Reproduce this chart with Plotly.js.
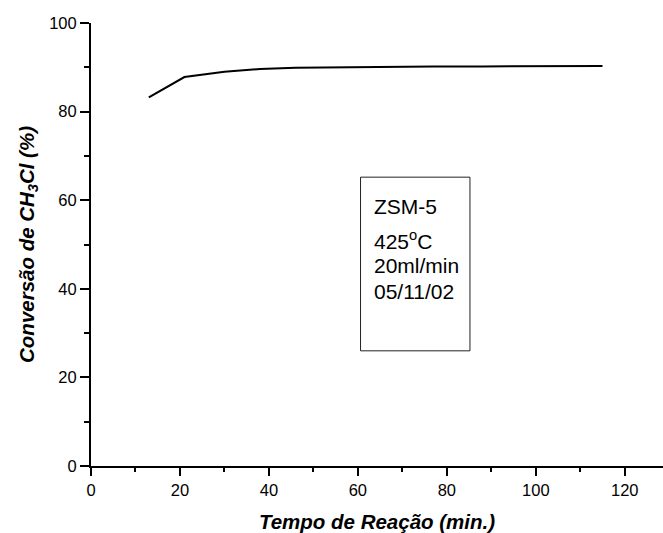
<!DOCTYPE html>
<html>
<head>
<meta charset="utf-8">
<script src="https://cdn.plot.ly/plotly-3.0.1.min.js"></script>
<style>html,body{margin:0;padding:0;background:#fff;}#chart{width:663px;height:533px;}</style>
</head>
<body>
<div id="chart"></div>
<script>
var tempo = [13, 21, 30, 38, 46, 55, 66, 77, 88, 99, 115];
var conversao = [83.2, 87.8, 89.0, 89.6, 89.9, 90.0, 90.2, 90.2, 90.2, 90.3, 90.3];
var boxLines = ["ZSM-5", "425<sup>o</sup>C", "20ml/min", "05/11/02"];
var boxLineY = [58.6, 51.1, 45.3, 39.4];

var FONT = "Arial, 'Liberation Sans', sans-serif";

var annotations = boxLines.map(function (t, i) {
  return {
    x: 63.1, y: boxLineY[i], xref: 'x', yref: 'y',
    xanchor: 'left', yanchor: 'middle',
    text: t, showarrow: false,
    font: {family: FONT, size: 21, color: '#000'}
  };
});

var trace = {
  x: tempo, y: conversao, mode: 'lines', type: 'scatter',
  line: {color: '#000', width: 2}, hoverinfo: 'none'
};

var layout = {
  width: 663, height: 533,
  margin: {l: 91, r: 0, t: 23, b: 67, pad: 0},
  paper_bgcolor: '#fff', plot_bgcolor: '#fff',
  showlegend: false,
  font: {family: FONT, color: '#000', size: 16},
  xaxis: {
    range: [0, 128.6], dtick: 20, tick0: 0,
    showgrid: false, zeroline: false,
    showline: true, linecolor: '#000', linewidth: 2,
    ticks: 'outside', ticklen: 8, tickwidth: 2, tickcolor: '#000',
    minor: {dtick: 10, ticks: 'outside', ticklen: 4, tickwidth: 2, tickcolor: '#000', showgrid: false},
    tickfont: {family: FONT, size: 16.5, color: '#000'},
    title: {text: 'Tempo de Reação (min.)', standoff: 17,
      font: {family: FONT, size: 20.5, color: '#000', weight: 'bold', style: 'italic'}}
  },
  yaxis: {
    range: [0, 100], dtick: 20, tick0: 0,
    showgrid: false, zeroline: false,
    showline: true, linecolor: '#000', linewidth: 2,
    ticks: 'outside', ticklen: 9, tickwidth: 2, tickcolor: '#000',
    minor: {dtick: 10, ticks: 'outside', ticklen: 5, tickwidth: 2, tickcolor: '#000', showgrid: false},
    tickfont: {family: FONT, size: 16.5, color: '#000'},
    title: {text: 'Conversão de CH<sub>3</sub>Cl (%)', standoff: 9,
      font: {family: FONT, size: 20.5, color: '#000', weight: 'bold', style: 'italic'}}
  },
  shapes: [{
    type: 'rect', xref: 'x', yref: 'y',
    x0: 60.6, x1: 85.2, y0: 26, y1: 65.2,
    line: {color: '#222', width: 1}, fillcolor: 'rgba(0,0,0,0)'
  }],
  annotations: annotations
};

Plotly.newPlot('chart', [trace], layout, {displayModeBar: false, staticPlot: true});
</script>
</body>
</html>
